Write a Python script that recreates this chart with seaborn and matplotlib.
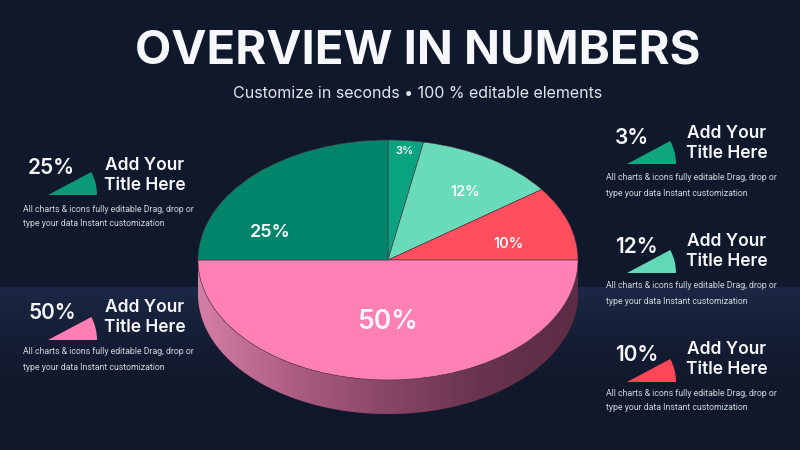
import numpy as np
import matplotlib.pyplot as plt
import matplotlib.patches as mpatches
from matplotlib.colors import LinearSegmentedColormap
import seaborn as sns

# ── Setup ──────────────────────────────────────────────────────────────────────
sns.set_theme(style="dark")
plt.rcParams["font.family"] = ["Inter", "DejaVu Sans"]

BG_TOP  = "#10182b"
BG_BAND = "#1c2845"
WHITE   = "#f6f7fa"
GREY    = "#d0d4dc"

# ── Data ───────────────────────────────────────────────────────────────────────
SHARES = [3, 12, 10, 50, 25]
SLICE_LABELS = ["3%", "12%", "10%", "50%", "25%"]
SLICE_COLORS = ["#0aa37f", "#6adbb9", "#ff4f5e", "#ff80b5", "#00856a"]

CARD_PCTS   = ["25%", "50%", "3%", "12%", "10%"]
CARD_COLORS = ["#0b9877", "#ff7fb4", "#10a780", "#62d9b6", "#ff4656"]
CARD_TITLE  = ["Add Your", "Title Here"]
CARD_BODY   = ["All charts & icons fully editable Drag, drop or",
               "type your data Instant customization"]

TITLE    = "OVERVIEW IN NUMBERS"
SUBTITLE = "Customize in seconds \u2022 100 % editable elements"

fig = plt.figure(figsize=(8, 4.5), dpi=100)

# ── Background (pixel coordinates) ─────────────────────────────────────────────
bg = fig.add_axes([0, 0, 1, 1])
bg.set_xlim(0, 800); bg.set_ylim(450, 0); bg.axis("off")
rows = np.linspace(0, 450, 450)
band = np.where(rows < 287, 0.0, np.clip(1 - (rows - 287) / 110, 0, 1) ** 1.5)
cmap_bg = LinearSegmentedColormap.from_list("bg", [BG_TOP, BG_BAND])
bg.imshow(band[:, None], extent=[0, 800, 450, 0], cmap=cmap_bg,
          vmin=0, vmax=1, aspect="auto", zorder=0)

bg.text(418, 52, TITLE, ha="center", va="center", color=WHITE,
        fontsize=34, fontweight="bold")
bg.text(418, 93, SUBTITLE, ha="center", va="center", color="#e3e6ee",
        fontsize=11.5)

# cards: (pct x, pct y, title centre x, title y, body x, body y, icon apex x, apex y)
CARD_POS = [
    (28, 168, 145, 165, 23, 209, 48, 195),
    (28, 313, 145, 308, 23, 352, 48, 340),
    (615, 138, 727, 134, 606, 178, 627, 164),
    (615, 247, 727, 242, 606, 286, 627, 273),
    (615, 355, 727, 349, 606, 393, 627, 382),
]
for pct, col, (px, py, tx, ty, bx, by, ix, iy) in zip(CARD_PCTS, CARD_COLORS, CARD_POS):
    bg.text(px, py, pct, ha="left", va="center", color=WHITE,
            fontsize=15, fontweight="semibold")
    bg.add_patch(mpatches.Wedge((ix, iy), 49, -28, 0, facecolor=col,
                                edgecolor="none", zorder=3))
    bg.text(tx, ty, CARD_TITLE[0], ha="center", va="center", color=WHITE,
            fontsize=12.5, fontweight="semibold")
    bg.text(tx, ty + 20, CARD_TITLE[1], ha="center", va="center", color=WHITE,
            fontsize=12.5, fontweight="semibold")
    bg.text(bx, by, CARD_BODY[0], ha="left", va="center", color=GREY,
            fontsize=6.3, family=["Roboto", "DejaVu Sans"])
    bg.text(bx, by + 15, CARD_BODY[1], ha="left", va="center", color=GREY,
            fontsize=6.3, family=["Roboto", "DejaVu Sans"])

# ── 3D-ish pie ─────────────────────────────────────────────────────────────────
depth = 34 / 120
top_px, bot_px = 140, 380 + 34
ax = fig.add_axes([198 / 800, 1 - bot_px / 450, 380 / 800, (bot_px - top_px) / 450])
ax.axis("off")

t = np.linspace(np.pi, 2 * np.pi, 200)
side_xy = np.concatenate([np.c_[np.cos(t), np.sin(t)],
                          np.c_[np.cos(t[::-1]), np.sin(t[::-1]) - depth]])
side = mpatches.Polygon(side_xy, closed=True, facecolor="none",
                        edgecolor="#3a2030", linewidth=0.5, zorder=1)
ax.add_patch(side)
cmap_side = LinearSegmentedColormap.from_list(
    "side", ["#d47fa8", "#ad5d84", "#884668", "#68334d", "#5c2c44"])
grad = ax.imshow(np.linspace(0, 1, 256)[None, :], extent=[-1, 1, -1 - depth, 0],
                 cmap=cmap_side, aspect="auto", zorder=1)
grad.set_clip_path(side)

wedges, _ = ax.pie(SHARES, colors=SLICE_COLORS, startangle=90, counterclock=False,
                   radius=1, wedgeprops=dict(edgecolor="#4a3040", linewidth=0.4))
for w in wedges:
    w.set_zorder(2)

# label placement: radius and angular tweak per slice
label_r     = [0.91, 0.70, 0.65, 0.52, 0.66]
label_shift = [0, -3, -6, 0, 25]
label_size  = [8, 10.5, 10.5, 19, 13]
for w, lab, r, sh, fs in zip(wedges, SLICE_LABELS, label_r, label_shift, label_size):
    ang = np.deg2rad((w.theta1 + w.theta2) / 2 + sh)
    ax.text(r * np.cos(ang), r * np.sin(ang), lab, ha="center", va="center",
            color=WHITE, fontsize=fs, fontweight="semibold", zorder=4)

ax.set_aspect("auto")
ax.set_xlim(-1, 1)
ax.set_ylim(-1 - depth, 1)

fig.savefig("out.png", dpi=100, facecolor=BG_TOP)
